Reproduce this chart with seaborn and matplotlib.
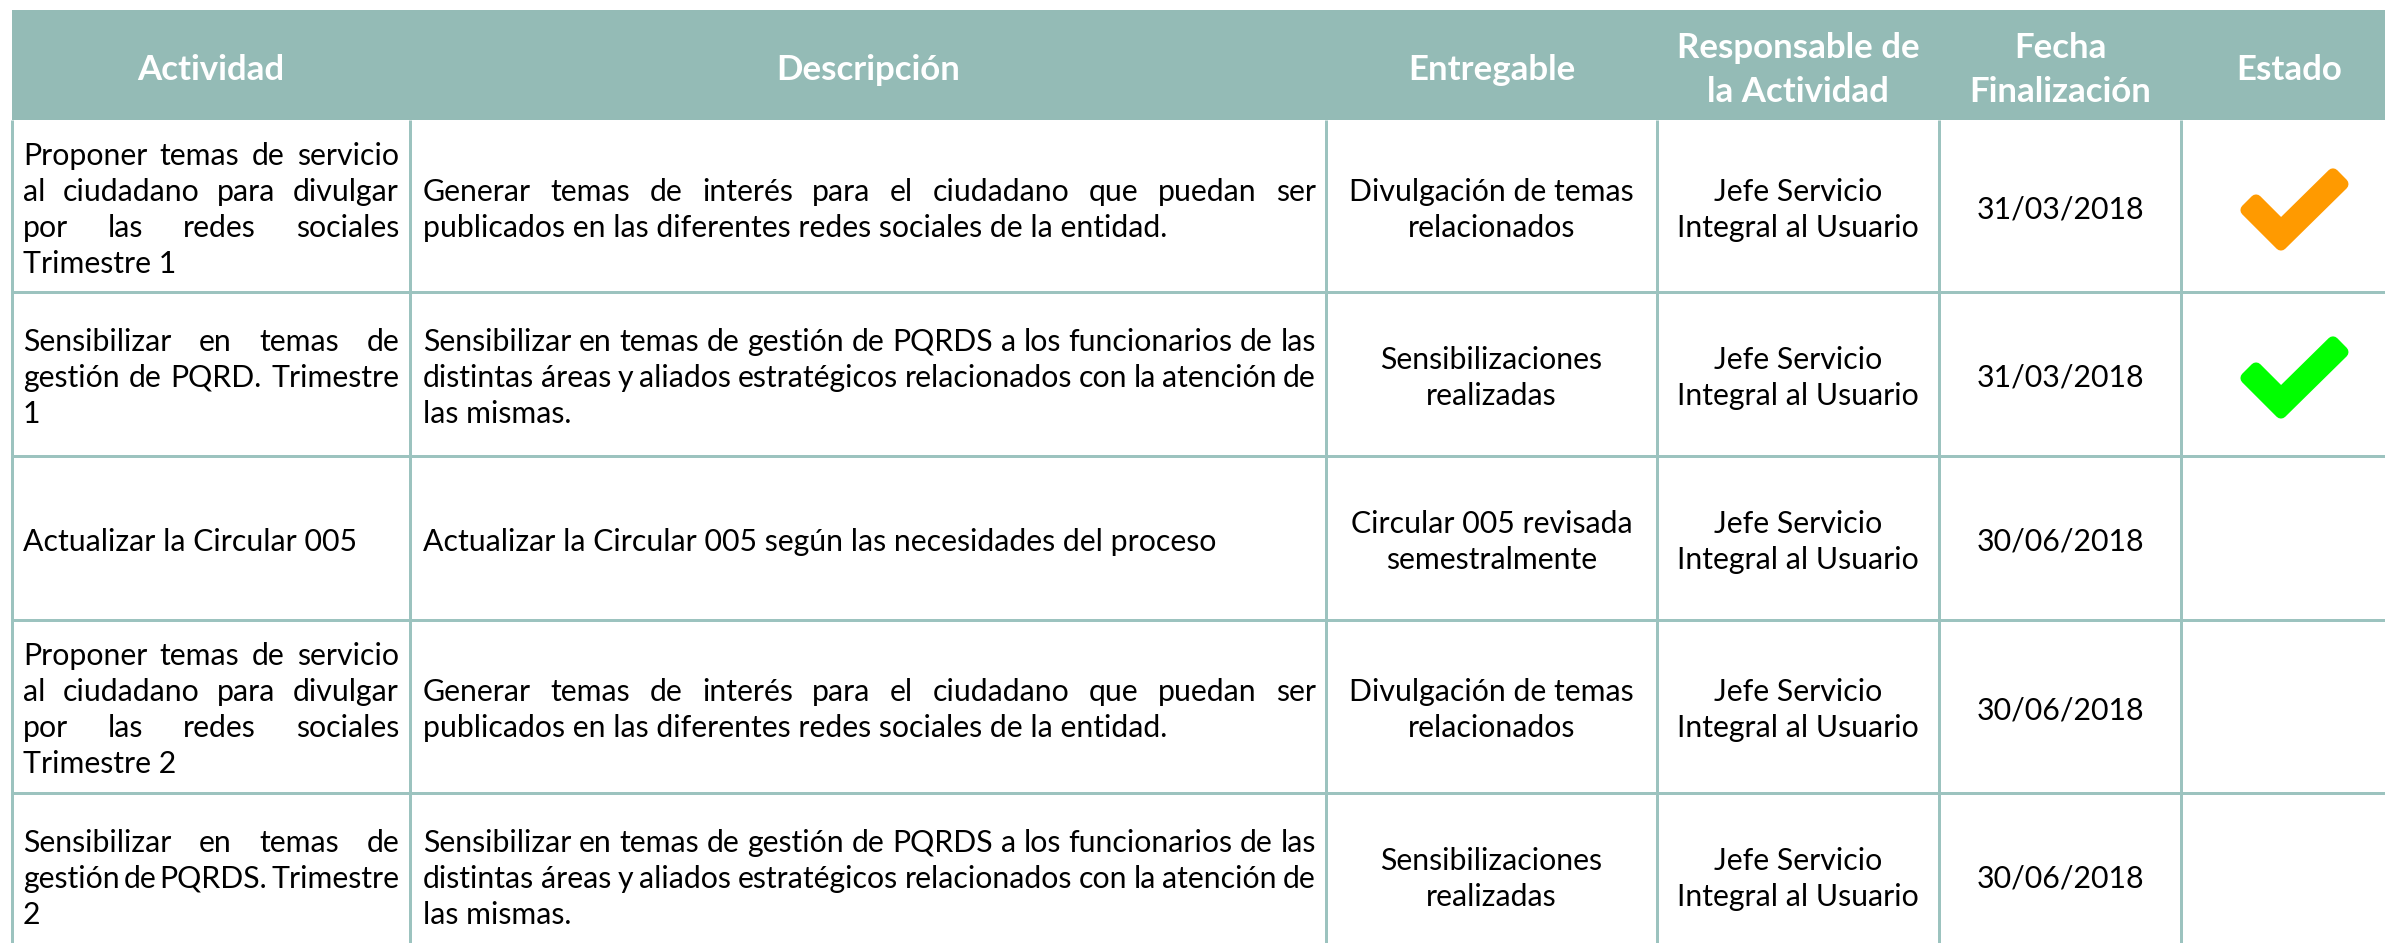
import numpy as np
import pandas as pd
import seaborn as sns
import matplotlib
matplotlib.use("Agg")
import matplotlib.pyplot as plt
from matplotlib.patches import Rectangle, Polygon

# ---------------- data ----------------
headers = ["Actividad", "Descripción", "Entregable", "Responsable de\nla Actividad",
           "Fecha\nFinalización", "Estado"]
actividad = [
    "Proponer temas de servicio\nal ciudadano para divulgar\npor las redes sociales\nTrimestre 1",
    "Sensibilizar en temas de\ngestión de PQRD. Trimestre\n1",
    "Actualizar la Circular 005",
    "Proponer temas de servicio\nal ciudadano para divulgar\npor las redes sociales\nTrimestre 2",
    "Sensibilizar en temas de\ngestión de PQRDS. Trimestre\n2",
]
descripcion = [
    "Generar temas de interés para el ciudadano que puedan ser\npublicados en las diferentes redes sociales de la entidad.",
    "Sensibilizar en temas de gestión de PQRDS a los funcionarios de las\ndistintas áreas y aliados estratégicos relacionados con la atención de\nlas mismas.",
    "Actualizar la Circular 005 según las necesidades del proceso",
    "Generar temas de interés para el ciudadano que puedan ser\npublicados en las diferentes redes sociales de la entidad.",
    "Sensibilizar en temas de gestión de PQRDS a los funcionarios de las\ndistintas áreas y aliados estratégicos relacionados con la atención de\nlas mismas.",
]
entregable = [
    "Divulgación de temas\nrelacionados",
    "Sensibilizaciones\nrealizadas",
    "Circular 005 revisada\nsemestralmente",
    "Divulgación de temas\nrelacionados",
    "Sensibilizaciones\nrealizadas",
]
responsable = ["Jefe Servicio\nIntegral al Usuario"] * 5
fecha = ["31/03/2018", "31/03/2018", "30/06/2018", "30/06/2018", "30/06/2018"]
estado = ["parcial", "cumplido", "", "", ""]

df = pd.DataFrame({"Actividad": actividad, "Descripción": descripcion,
                   "Entregable": entregable, "Responsable": responsable,
                   "Fecha": fecha, "Estado": estado})

# ---------------- style / layout ----------------
sns.set_theme(style="white")
FONT = ["Lato", "DejaVu Sans"]
plt.rcParams["font.family"] = FONT

W, H = 2385, 943
col_edges = [12, 410, 1326, 1657, 1939, 2181, 2397]
row_edges = [10, 120, 292, 456, 620, 793, 957]
HEADER_C = "#94BBB6"
GRID_C = "#9CC3BF"
CHECK_C = {"parcial": "#FF9A00", "cumplido": "#00FF00"}
LINE_SP = 36
HLINE_SP = 44

fig = plt.figure(figsize=(W / 100, H / 100), dpi=100)
ax = fig.add_axes([0, 0, 1, 1])
ax.set_xlim(0, W)
ax.set_ylim(H, 0)
ax.axis("off")
renderer = fig.canvas.get_renderer()


def twidth(s, size, weight="normal"):
    t = ax.text(0, 0, s, fontsize=size, weight=weight)
    w = t.get_window_extent(renderer).width
    t.remove()
    return w


body_pt = 10 * 748 / twidth("publicados en las diferentes redes sociales de la entidad.", 10)
head_pt = 10 * 148 / twidth("Actividad", 10, "bold")
body_px = body_pt * 100 / 72
head_px = head_pt * 100 / 72

# header
ax.add_patch(Rectangle((col_edges[0], row_edges[0]), col_edges[-1] - col_edges[0],
                       row_edges[1] - row_edges[0], facecolor=HEADER_C, edgecolor="none", zorder=1))
hy = (row_edges[0] + row_edges[1]) / 2 + 2
for i, h in enumerate(headers):
    cx = (col_edges[i] + col_edges[i + 1]) / 2
    lines = h.split("\n")
    n = len(lines)
    for k, ln in enumerate(lines):
        yb = hy + (k - (n - 1) / 2) * HLINE_SP + 0.36 * head_px
        ax.text(cx, yb, ln, ha="center", va="baseline", color="white", fontsize=head_pt,
                weight="bold", zorder=3)

# grid lines
lw = 3 * 0.72
for y in row_edges[2:-1]:
    ax.plot([col_edges[0], col_edges[-1]], [y, y], color=GRID_C, lw=lw, zorder=2,
            solid_capstyle="butt")
for x in col_edges[:-1]:
    ax.plot([x, x], [row_edges[1], H + 5], color=GRID_C, lw=lw, zorder=2,
            solid_capstyle="butt")


def draw_lines(lines, yc):
    n = len(lines)
    return [yc + (i - (n - 1) / 2) * LINE_SP + 0.33 * body_px + 3 for i in range(n)]


def justified(text, x0, x1, yc):
    lines = text.split("\n")
    bases = draw_lines(lines, yc)
    for k, (ln, yb) in enumerate(zip(lines, bases)):
        words = ln.split(" ")
        if k == len(lines) - 1 or len(words) == 1:
            ax.text(x0, yb, ln, ha="left", va="baseline", fontsize=body_pt, color="black", zorder=3)
            continue
        ws = [twidth(w_, body_pt) for w_ in words]
        gap = (x1 - x0 - sum(ws)) / (len(words) - 1)
        x = x0
        for w_, ww in zip(words, ws):
            ax.text(x, yb, w_, ha="left", va="baseline", fontsize=body_pt, color="black", zorder=3)
            x += ww + gap


def centered(text, cx, yc):
    lines = text.split("\n")
    for ln, yb in zip(lines, draw_lines(lines, yc)):
        ax.text(cx, yb, ln, ha="center", va="baseline", fontsize=body_pt, color="black", zorder=3)


def check(cx, cy, color):
    L = np.array([cx - 42, cy - 5.0])
    V = np.array([cx - 8, cy + 29.0])
    R = np.array([cx + 53, cy - 31.0])
    h, r = 12.8, 6.0
    hp = h - r
    d1 = (V - L) / np.linalg.norm(V - L)
    d2 = (R - V) / np.linalg.norm(R - V)
    n1 = np.array([-d1[1], d1[0]])
    n2 = np.array([-d2[1], d2[0]])
    Lp = L + d1 * r
    Rp = R - d2 * r
    m = (n1 + n2) * hp / np.dot(n1 + n2, n1)
    pts = [Lp + n1 * hp, V + m, Rp + n2 * hp, Rp - n2 * hp, V - m, Lp - n1 * hp]
    ax.add_patch(Polygon(pts, closed=True, facecolor=color, edgecolor=color,
                         lw=2 * r * 0.72, joinstyle="round", zorder=3))


for i, row in df.iterrows():
    yc = (row_edges[i + 1] + row_edges[i + 2]) / 2
    justified(row["Actividad"], col_edges[0] + 11, col_edges[1] - 11, yc)
    justified(row["Descripción"], col_edges[1] + 13, col_edges[2] - 10, yc)
    centered(row["Entregable"], (col_edges[2] + col_edges[3]) / 2, yc)
    centered(row["Responsable"], (col_edges[3] + col_edges[4]) / 2, yc)
    centered(row["Fecha"], (col_edges[4] + col_edges[5]) / 2, yc)
    if row["Estado"]:
        check((col_edges[5] + col_edges[6]) / 2, yc, CHECK_C[row["Estado"]])

fig.savefig("out.png", dpi=100, facecolor="white")
